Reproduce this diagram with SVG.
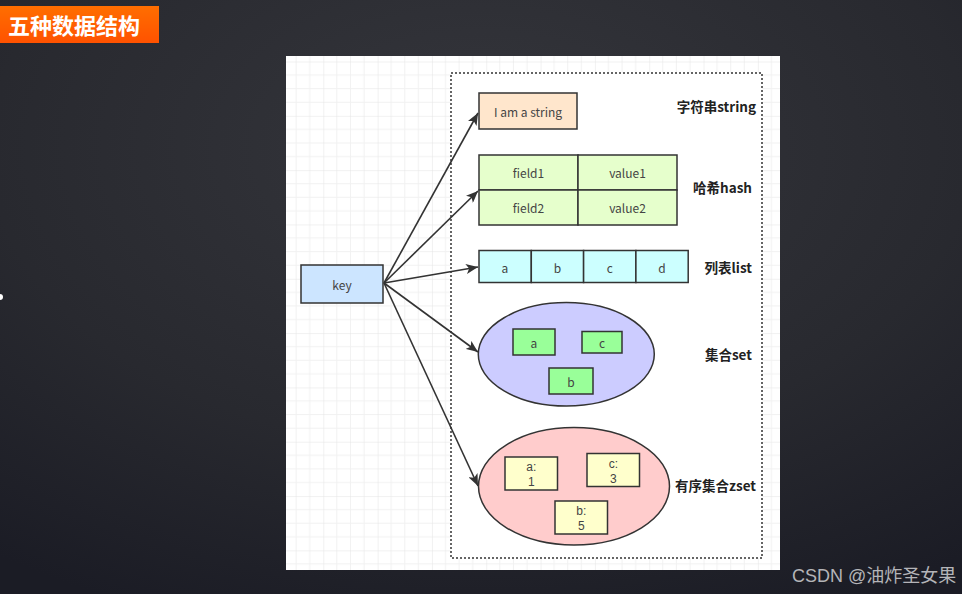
<svg xmlns="http://www.w3.org/2000/svg" width="962" height="594" viewBox="0 0 962 594">
<defs>
<radialGradient id="bg" cx="0.5" cy="0.25" r="0.85">
<stop offset="0" stop-color="#35363c"/>
<stop offset="0.6" stop-color="#28292f"/>
<stop offset="1" stop-color="#1b1c25"/>
</radialGradient>
<linearGradient id="ban" x1="0" y1="0" x2="0" y2="1">
<stop offset="0" stop-color="#ff6e00"/>
<stop offset="1" stop-color="#ff5200"/>
</linearGradient>
<pattern id="grid" patternUnits="userSpaceOnUse" x="323.3" y="61.5" width="54.32" height="54.32">
<path d="M13.58 0V54.32M27.16 0V54.32M40.74 0V54.32M0 13.58H54.32M0 27.16H54.32M0 40.74H54.32" stroke="#f1f1f1" stroke-width="1" fill="none"/>
<path d="M0 0V54.32M0 0H54.32" stroke="#e4e4e4" stroke-width="1" fill="none"/>
</pattern>
<marker id="arr" markerUnits="userSpaceOnUse" markerWidth="14" markerHeight="10" refX="12" refY="5" orient="auto" viewBox="0 0 14 10">
<path d="M0,0 L12,5 L0,10 L3,5 Z" fill="#333"/>
</marker>
</defs>
<style>
.box{stroke:#333;stroke-width:1.5}
.t{font-family:"Noto Sans CJK SC","Open Sans",sans-serif;font-size:12px;fill:#444;text-anchor:middle;dominant-baseline:central}
.t2{font-family:"Liberation Sans",Arial,sans-serif;font-size:12px;fill:#444;text-anchor:middle}
.lbl{font-family:"Noto Sans CJK SC",sans-serif;font-size:13.5px;font-weight:bold;fill:#222;text-anchor:end;dominant-baseline:central}
.edge{stroke:#333;stroke-width:1.6;fill:none;marker-end:url(#arr)}
</style>
<rect width="962" height="594" fill="url(#bg)"/>
<circle cx="0" cy="297" r="3" fill="#fff"/>
<rect x="0" y="6" width="159" height="37" fill="url(#ban)"/>
<text x="8" y="24" font-family="Noto Sans CJK SC,sans-serif" font-size="22" font-weight="bold" fill="#fff" dominant-baseline="central">五种数据结构</text>
<rect x="286" y="56" width="494" height="514" fill="#fff"/>
<rect x="286" y="56" width="494" height="514" fill="url(#grid)"/>
<rect id="container" x="451" y="73" width="311" height="485" fill="#fff" stroke="#333" stroke-width="1.5" stroke-dasharray="2,2"/>
<g id="key"><rect class="box" x="301" y="265" width="82" height="38" fill="#cce5ff"/><text class="t" x="342" y="284">key</text></g>
<g id="string"><rect class="box" x="479" y="93" width="98" height="36" fill="#ffe6cc"/><text class="t" x="528" y="111">I am a string</text></g>
<g id="hash">
<rect class="box" x="479" y="155" width="99" height="35" fill="#e6ffcc"/>
<rect class="box" x="578" y="155" width="99" height="35" fill="#e6ffcc"/>
<rect class="box" x="479" y="190" width="99" height="35" fill="#e6ffcc"/>
<rect class="box" x="578" y="190" width="99" height="35" fill="#e6ffcc"/>
<text class="t" x="528.5" y="172">field1</text><text class="t" x="627.5" y="172">value1</text>
<text class="t" x="528.5" y="207.5">field2</text><text class="t" x="627.5" y="207.5">value2</text>
</g>
<g id="list">
<rect class="box" x="479" y="250.5" width="52.3" height="32" fill="#ccffff"/>
<rect class="box" x="531.3" y="250.5" width="52.3" height="32" fill="#ccffff"/>
<rect class="box" x="583.6" y="250.5" width="52.3" height="32" fill="#ccffff"/>
<rect class="box" x="635.9" y="250.5" width="52.3" height="32" fill="#ccffff"/>
<text class="t" x="505" y="267">a</text><text class="t" x="557.5" y="267">b</text><text class="t" x="609.7" y="267">c</text><text class="t" x="662" y="267">d</text>
</g>
<g id="set">
<ellipse class="box" cx="566.3" cy="354.3" rx="88" ry="51.7" fill="#ccccff"/>
<rect class="box" x="513" y="329" width="42" height="26" fill="#99ff99"/><text class="t" x="534" y="342">a</text>
<rect class="box" x="582" y="331.5" width="40" height="21.5" fill="#99ff99"/><text class="t" x="602" y="342">c</text>
<rect class="box" x="549" y="368" width="44" height="26" fill="#99ff99"/><text class="t" x="571" y="381">b</text>
</g>
<g id="zset">
<ellipse class="box" cx="574" cy="486.3" rx="95.5" ry="58.7" fill="#ffcccc"/>
<rect class="box" x="505" y="457" width="52.5" height="33" fill="#ffffcc"/><text class="t2" x="531.3" y="471"><tspan x="531.3">a:</tspan><tspan x="531.3" dy="15">1</tspan></text>
<rect class="box" x="587" y="453.5" width="52.5" height="33" fill="#ffffcc"/><text class="t2" x="613.3" y="467.5"><tspan x="613.3">c:</tspan><tspan x="613.3" dy="15">3</tspan></text>
<rect class="box" x="555" y="501" width="52.5" height="33" fill="#ffffcc"/><text class="t2" x="581.3" y="515"><tspan x="581.3">b:</tspan><tspan x="581.3" dy="15">5</tspan></text>
</g>
<g id="labels">
<text class="lbl" x="756" y="105.5">字符串string</text>
<text class="lbl" x="752" y="187">哈希hash</text>
<text class="lbl" x="752" y="266.5">列表list</text>
<text class="lbl" x="752" y="354">集合set</text>
<text class="lbl" x="756" y="484.5">有序集合zset</text>
</g>
<g id="connectors">
<line class="edge" x1="384" y1="283" x2="478" y2="113"/>
<line class="edge" x1="384" y1="283" x2="478" y2="191"/>
<line class="edge" x1="384" y1="283" x2="478" y2="267"/>
<line class="edge" x1="384" y1="283" x2="478" y2="352"/>
<line class="edge" x1="384" y1="283" x2="478" y2="486"/>
</g>
<text x="792" y="576" font-family="Liberation Sans,Noto Sans CJK SC,sans-serif" font-size="18" fill="#b4b4b8" dominant-baseline="central">CSDN @油炸圣女果</text>
</svg>
